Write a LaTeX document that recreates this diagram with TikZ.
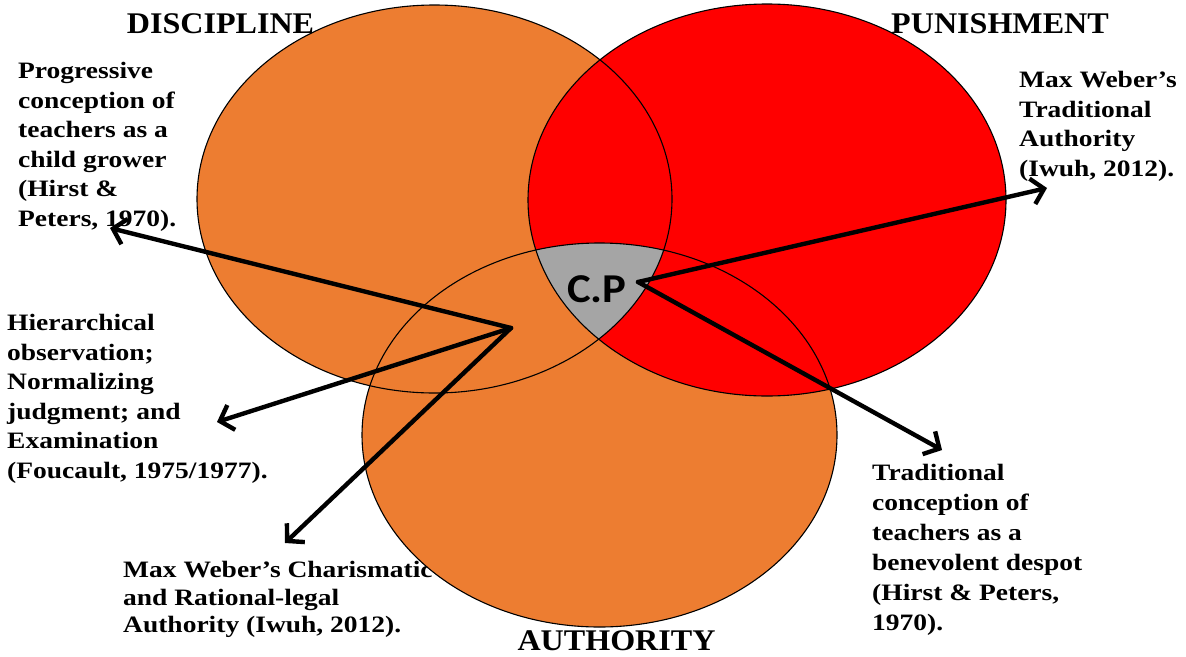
\documentclass[tikz,border=0pt]{standalone}
\usepackage{fontspec}
\setmainfont{Liberation Serif}
\newfontfamily\bodyface[FakeStretch=1.17]{Liberation Serif}
\newfontfamily\titleface[FakeStretch=1.07]{Liberation Serif}
\newfontfamily\cpface[FakeStretch=1.09]{Carlito}
\usetikzlibrary{arrows.meta}
\definecolor{venorange}{HTML}{ED7D31}
\definecolor{venred}{HTML}{FF0000}
\definecolor{vengray}{HTML}{A5A5A5}
\tikzset{
  blurb/.style={anchor=north west, inner sep=0pt, align=left,
    font=\bodyface\bfseries\fontsize{23.5}{29.5}\selectfont},
  heading/.style={anchor=base, inner sep=0pt,
    font=\titleface\bfseries\fontsize{30}{32}\selectfont},
  rim/.style={draw=black, line width=1.1pt},
  pointer/.style={draw=black, line width=4.4pt, line cap=round, line join=round,
    -{Straight Barb[length=12pt,width=26pt]}},
}
\begin{document}
\begin{tikzpicture}[x=1pt, y=-1pt]
\useasboundingbox (0,0) rectangle (1186,656);

% explanatory texts
\node[blurb] (prog) at (18,62) {Progressive\\conception of\\teachers as a\\child grower\\(Hirst \&\\Peters, 1970).};
\node[blurb] (foucault) at (7,314) {Hierarchical\\observation;\\Normalizing\\judgment; and\\Examination\\(Foucault, 1975/1977).};
\node[blurb, font=\bodyface\bfseries\fontsize{23.5}{27.5}\selectfont] (charis) at (123,561) {Max Weber’s Charismatic\\and Rational-legal\\Authority (Iwuh, 2012).};
\node[blurb] (tradauth) at (1019,71) {Max Weber’s\\Traditional\\Authority\\(Iwuh, 2012).};
\node[blurb, font=\bodyface\bfseries\fontsize{23.5}{30}\selectfont] (despot) at (872,464) {Traditional\\conception of\\teachers as a\\benevolent despot\\(Hirst \& Peters,\\1970).};

% headings
\node[heading] (hdisc) at (220.5,33) {DISCIPLINE};
\node[heading] (hpun) at (1000,33) {PUNISHMENT};
\node[heading] (hauth) at (616.5,650) {AUTHORITY};

% filled sets
\fill[venorange] (434.5,199) ellipse [x radius=237.5pt, y radius=194pt];
\fill[venorange] (599.5,435) ellipse [x radius=237.5pt, y radius=192pt];
\fill[venred] (767,200) ellipse [x radius=239pt, y radius=196pt];
\begin{scope}
  \clip (434.5,199) ellipse [x radius=237.5pt, y radius=194pt];
  \clip (767,200) ellipse [x radius=239pt, y radius=196pt];
  \fill[vengray] (599.5,435) ellipse [x radius=237.5pt, y radius=192pt];
\end{scope}

% outlines
\draw[rim] (434.5,199) ellipse [x radius=237.5pt, y radius=194pt];
\draw[rim] (767,200) ellipse [x radius=239pt, y radius=196pt];
\draw[rim] (599.5,435) ellipse [x radius=237.5pt, y radius=192pt];

% centre label
\node[inner sep=0pt, anchor=base, font=\cpface\bfseries\fontsize{41}{44}\selectfont] (cp) at (597,302) {C.P};

% connector hubs and ends
\coordinate (hub) at (511,328);
\coordinate (cphub) at (638,282);
\coordinate (toprog) at (110,228);
\coordinate (tofouc) at (217,422);
\coordinate (tochar) at (285,543);
\coordinate (totrad) at (1047,188);
\coordinate (todesp) at (942,450);

\draw[pointer] (hub) -- (toprog);
\draw[pointer] (hub) -- (tofouc);
\draw[pointer] (hub) -- (tochar);
\draw[pointer] (cphub) -- (totrad);
\draw[pointer] (cphub) -- (todesp);
\end{tikzpicture}
\end{document}
